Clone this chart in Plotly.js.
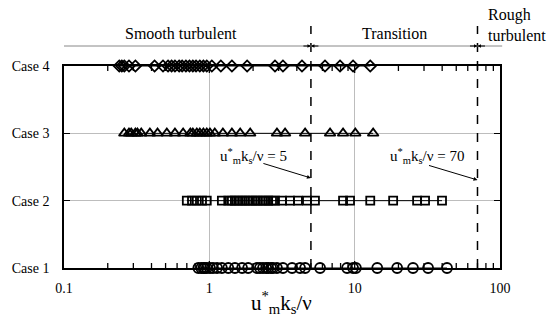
<!DOCTYPE html>
<html>
<head>
<meta charset="utf-8">
<script src="https://cdn.plot.ly/plotly-3.0.1.min.js"></script>
<style>
  html, body { margin: 0; padding: 0; background: #fff; }
  #chart { width: 550px; height: 327px; }
</style>
</head>
<body>
<div id="chart"></div>
<script>
// Roughness Reynolds number u*_m k_s / nu for each case
const case1 = [0.84, 0.88, 0.91, 0.93, 0.96, 1.01, 1.06, 1.13, 1.22, 1.35, 1.50, 1.68, 1.85,
  2.13, 2.23, 2.34, 2.46, 2.54, 2.66, 2.74, 2.92, 3.21, 3.71, 4.21, 4.56, 5.78,
  8.87, 9.75, 10.2, 14.3, 19.6, 25.2, 32.0, 43.2];
const case2 = [0.70, 0.76, 0.82, 0.89, 0.96, 1.22, 1.35, 1.43, 1.50, 1.58, 1.68, 1.76, 1.85,
  1.97, 2.07, 2.16, 2.31, 2.42, 2.54, 2.70, 2.83, 3.16, 3.59, 4.07, 4.70, 5.33,
  8.32, 9.29, 12.8, 18.4, 26.9, 30.5, 39.9];
const case3 = [0.26, 0.28, 0.29, 0.31, 0.32, 0.34, 0.39, 0.44, 0.51, 0.58, 0.66, 0.74, 0.77,
  0.82, 0.86, 0.91, 0.96, 1.01, 1.09, 1.24, 1.43, 1.63, 1.91, 2.92, 3.32, 4.56,
  6.77, 8.32, 10.1, 13.4];
const case4 = [0.24, 0.25, 0.26, 0.28, 0.31, 0.42, 0.48, 0.52, 0.55, 0.58, 0.62, 0.65, 0.69,
  0.73, 0.77, 0.81, 0.86, 0.91, 0.96, 1.04, 1.20, 1.43, 1.82, 2.83, 3.21, 4.34,
  6.25, 7.93, 9.75, 12.8];

const caseLevels = [1, 2, 3, 4];
const caseLabels = ['Case 1', 'Case 2', 'Case 3', 'Case 4'];
const caseSymbols = ['circle-open', 'square-open', 'triangle-up-open', 'diamond-open'];
const caseSizes = [10, 8, 9.5, 8.5];

const xTickVals = [0.1, 1, 10, 100];
const xTickText = ['0.1', '1', '10', '100'];

// regime boundaries
const smoothLimit = 5;
const roughLimit = 70;

const serif = '"Liberation Serif", serif';

const allCases = [case1, case2, case3, case4];

const traces = allCases.map((vals, i) => ({
  x: vals,
  y: vals.map(() => caseLevels[i]),
  type: 'scatter',
  mode: 'lines+markers',
  line: { color: 'black', width: 1 },
  marker: {
    symbol: caseSymbols[i],
    size: caseSizes[i],
    color: 'black',
    line: { color: 'black', width: 1.8 }
  },
  cliponaxis: false,
  showlegend: false,
  hoverinfo: 'x'
}));

const mathLabel = 'u<sup>*</sup><sub>m</sub>k<sub>s</sub>/ν';

// convert pixel positions in the plot area to paper coords
const L = 64, R = 500, T = 66, B = 268;
const px = x => (x - L) / (R - L);
const py = y => (B - y) / (B - T);
const yPerPx = 3 / (B - T);  // y-axis units per pixel

const shapes = [
  // regime boundary lines
  { type: 'line', xref: 'x', yref: 'paper', x0: smoothLimit, x1: smoothLimit, y0: 0, y1: py(26),
    line: { color: 'black', width: 1.5, dash: 'dash' } },
  { type: 'line', xref: 'x', yref: 'paper', x0: roughLimit, x1: roughLimit, y0: 0, y1: py(26),
    line: { color: 'black', width: 1.5, dash: 'dash' } },
  // regime span line
  { type: 'line', xref: 'paper', yref: 'paper', x0: 0, x1: 1.005, y0: py(46), y1: py(46),
    line: { color: '#888', width: 1 } }
];

// inward log ticks (2..9 of each decade, longer at decades) on bottom and top frame
[0.1, 1, 10].forEach(d => {
  for (let k = 1; k <= 9; k++) {
    if (d === 0.1 && k === 1) continue;
    const len = (k === 1 ? 7 : 5) * yPerPx;
    const v = d * k;
    shapes.push({ type: 'line', layer: 'above', xref: 'x', yref: 'y', x0: v, x1: v, y0: 1, y1: 1 + len,
      line: { color: 'black', width: 1.3 } });
    shapes.push({ type: 'line', layer: 'above', xref: 'x', yref: 'y', x0: v, x1: v, y0: 4, y1: 4 - len,
      line: { color: 'black', width: 1.3 } });
  }
});

function tickArrow(xv, dir) {
  return {
    xref: 'x', yref: 'paper', x: Math.log10(xv), y: py(46),
    ax: dir * 9, ay: 0, text: '', showarrow: true,
    arrowhead: 2, arrowsize: 0.7, arrowwidth: 1, arrowcolor: 'black'
  };
}

function label(xPix, yPix, text, size, extra) {
  return Object.assign({
    xref: 'paper', yref: 'paper', x: px(xPix), y: py(yPix), text: text,
    xanchor: 'center', yanchor: 'middle', showarrow: false,
    font: { family: serif, size: size, color: 'black' }
  }, extra || {});
}

const annotations = [
  label(181, 33, 'Smooth turbulent', 16),
  label(394, 33, 'Transition', 16),
  label(486, 25, 'Rough<br>turbulent', 16, { xanchor: 'left', align: 'left' }),
  tickArrow(smoothLimit, -1), tickArrow(smoothLimit, 1),
  tickArrow(roughLimit, -1), tickArrow(roughLimit, 1),
  // labelled arrows
  label(253, 156, mathLabel + ' = ' + smoothLimit, 15),
  { xref: 'x', yref: 'paper', x: Math.log10(smoothLimit), y: py(178), text: '',
    ax: -49, ay: -15, showarrow: true, arrowhead: 2, arrowsize: 0.8, arrowwidth: 1, arrowcolor: 'black' },
  label(427, 156, mathLabel + ' = ' + roughLimit, 15),
  { xref: 'x', yref: 'paper', x: Math.log10(roughLimit), y: py(180), text: '',
    ax: -50, ay: -15, showarrow: true, arrowhead: 2, arrowsize: 0.8, arrowwidth: 1, arrowcolor: 'black' },
  // axis title
  label(281, 302, mathLabel, 21)
];

const layout = {
  width: 550,
  height: 327,
  margin: { l: L, r: 550 - R, t: T, b: 327 - B },
  paper_bgcolor: '#fff',
  plot_bgcolor: '#fff',
  font: { family: serif, size: 14, color: 'black' },
  showlegend: false,
  xaxis: {
    type: 'log',
    range: [-1, 2],
    tickvals: xTickVals,
    ticktext: xTickText,
    ticks: '',
    ticklabelstandoff: 6,
    showline: true,
    linecolor: 'black',
    linewidth: 1.8,
    mirror: true,
    showgrid: true,
    gridcolor: '#bdbdbd',
    gridwidth: 1,
    zeroline: false,
    tickfont: { family: serif, size: 14, color: 'black' }
  },
  yaxis: {
    range: [1, 4],
    tickvals: caseLevels,
    ticktext: caseLabels,
    ticks: 'inside',
    ticklen: 6,
    tickwidth: 1.2,
    tickcolor: 'black',
    ticklabelstandoff: 10,
    showline: true,
    linecolor: 'black',
    linewidth: 1.8,
    mirror: 'allticks',
    showgrid: true,
    gridcolor: '#bdbdbd',
    gridwidth: 1,
    zeroline: false,
    tickfont: { family: serif, size: 14, color: 'black' }
  },
  shapes: shapes,
  annotations: annotations
};

Plotly.newPlot('chart', traces, layout, { displayModeBar: false, staticPlot: true });
</script>
</body>
</html>
